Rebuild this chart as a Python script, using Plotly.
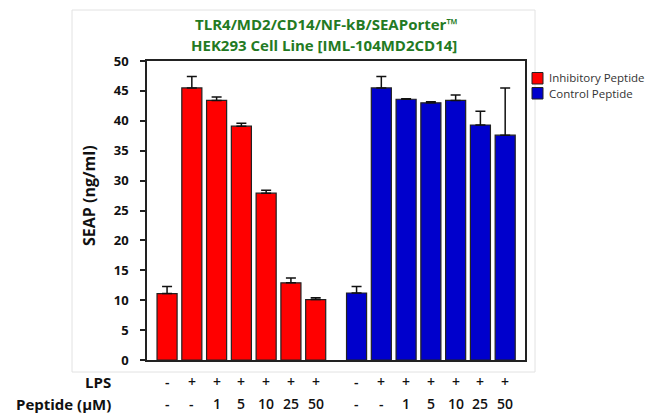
import plotly.graph_objects as go

# ---- data ----
conditions_lps = ["-", "+", "+", "+", "+", "+", "+"]
conditions_peptide = ["-", "-", "1", "5", "10", "25", "50"]
inhibitory_values = [11.1, 45.5, 43.4, 39.1, 27.9, 12.9, 10.1]
inhibitory_err = [1.2, 1.9, 0.6, 0.5, 0.5, 0.8, 0.3]
control_values = [11.2, 45.5, 43.6, 43.0, 43.4, 39.3, 37.6]
control_err = [1.1, 1.9, 0.1, 0.2, 0.9, 2.3, 7.9]
y_ticks = [0, 5, 10, 15, 20, 25, 30, 35, 40, 45, 50]

red_x = list(range(7))
blue_x = [7.65 + i for i in range(7)]

FONT = "Open Sans"
OFF = 8  # page body margin
W, H = 656 - OFF, 413 - OFF
L, T = 147 - OFF, 61 - OFF
B = H - (360 - OFF)
R = W - (525 - OFF)
pw, ph = W - L - R, H - T - B


def px(x):
    return (x - OFF - L) / pw


def py(y):
    return (H - B - (y - OFF)) / ph


def note(text, x, y, xref="paper", xanchor="center", size=12, color="#111111",
         angle=0, weight="normal"):
    return dict(text=text, x=x, y=y, xref=xref, yref="paper", showarrow=False,
                xanchor=xanchor, yanchor="middle", textangle=angle,
                font=dict(family=FONT, size=size, color=color, weight=weight))


fig = go.Figure()
fig.add_trace(go.Bar(
    x=red_x, y=inhibitory_values, width=0.81, name="Inhibitory Peptide",
    marker=dict(color="#FF0000", line=dict(color="#222222", width=1.2)),
    error_y=dict(type="data", symmetric=False, array=inhibitory_err,
                 arrayminus=[0] * 7, color="#111111", thickness=1.5, width=5),
))
fig.add_trace(go.Bar(
    x=blue_x, y=control_values, width=0.81, name="Control Peptide",
    marker=dict(color="#0000CC", line=dict(color="#222222", width=1.2)),
    error_y=dict(type="data", symmetric=False, array=control_err,
                 arrayminus=[0] * 7, color="#111111", thickness=1.5, width=5),
))

ann = [
    note("TLR4/MD2/CD14/NF-kB/SEAPorter™", px(326), py(24), size=15, color="#237a23", weight="bold"),
    note("HEK293 Cell Line [IML-104MD2CD14]", px(324), py(45), size=15, color="#237a23", weight="bold"),
    note("SEAP (ng/ml)", px(89), py(196), size=16, angle=-90, weight="bold"),
    note("LPS", px(113), py(382), xanchor="right", size=15, weight="bold"),
    note("Peptide (µM)", px(113), py(404), xanchor="right", size=15, weight="bold"),
    note("Inhibitory Peptide", px(547), py(78), xanchor="left", size=11.5, color="#333333"),
    note("Control Peptide", px(547), py(93), xanchor="left", size=11.5, color="#333333"),
]
for xs in (red_x, blue_x):
    for xv, l, p in zip(xs, conditions_lps, conditions_peptide):
        ann.append(note(l, xv, py(381), xref="x", size=14, weight=600))
        ann.append(note(p, xv, py(404), xref="x", size=14, weight=600))

shapes = [
    dict(type="rect", xref="paper", yref="paper", x0=px(72), x1=px(535),
         y0=py(372), y1=py(10), line=dict(color="#e2e2e2", width=1), layer="below"),
    dict(type="rect", xref="paper", yref="paper", x0=px(532), x1=px(543),
         y0=py(84), y1=py(72.5), fillcolor="#FF0000", line=dict(color="#222222", width=1)),
    dict(type="rect", xref="paper", yref="paper", x0=px(532), x1=px(543),
         y0=py(99), y1=py(87.5), fillcolor="#0000CC", line=dict(color="#222222", width=1)),
]

fig.update_layout(
    width=W, height=H, margin=dict(l=L, r=R, t=T, b=B),
    paper_bgcolor="white", plot_bgcolor="white", showlegend=False,
    annotations=ann, shapes=shapes,
    font=dict(family=FONT, color="#111111"),
)
fig.update_xaxes(range=[-0.81, 14.45], showticklabels=False, ticks="",
                 showgrid=False, zeroline=False, showline=True, linecolor="#222222",
                 linewidth=1.5, mirror=True)
fig.update_yaxes(range=[0, 50], tickvals=y_ticks, ticks="outside", ticklen=5,
                 tickcolor="#222222", tickwidth=1.5, showgrid=False, zeroline=False,
                 showline=True, linecolor="#222222", linewidth=1.5, mirror=True,
                 ticklabelstandoff=9,
                 tickfont=dict(family=FONT, size=13, color="#111111", weight="bold"))

fig.write_html("out.html")
